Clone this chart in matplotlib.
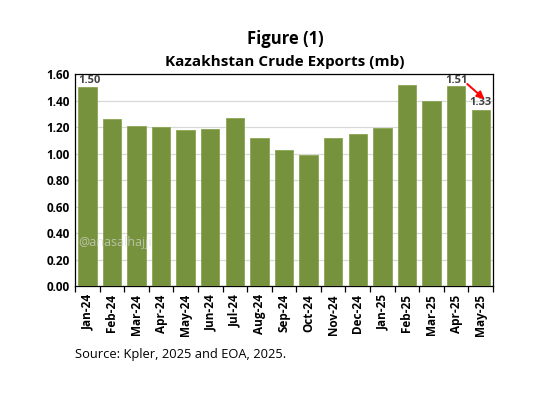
import numpy as np
import matplotlib.pyplot as plt

# Data
months = ['Jan-24', 'Feb-24', 'Mar-24', 'Apr-24', 'May-24', 'Jun-24', 'Jul-24', 'Aug-24',
          'Sep-24', 'Oct-24', 'Nov-24', 'Dec-24', 'Jan-25', 'Feb-25', 'Mar-25', 'Apr-25', 'May-25']
exports = [1.50, 1.26, 1.21, 1.20, 1.175, 1.185, 1.27, 1.12,
           1.025, 0.99, 1.12, 1.145, 1.195, 1.52, 1.40, 1.51, 1.33]
yticks = [0.0, 0.2, 0.4, 0.6, 0.8, 1.0, 1.2, 1.4, 1.6]

plt.rcParams['font.family'] = ['Open Sans', 'DejaVu Sans']

fig = plt.figure(figsize=(5.38, 3.99), dpi=100)
ax = fig.add_axes([0.1394, 0.2832, 0.777, 0.5313])

x = np.arange(len(months))
ax.bar(x, exports, width=0.75, color='#76923C', edgecolor='#8aa552', linewidth=0.6, zorder=3)

ax.set_xlim(-0.5, len(months) - 0.5)
ax.set_ylim(0, 1.6)
ax.set_yticks(yticks)
ax.set_yticklabels(['%.2f' % v for v in yticks], fontsize=8.5, fontweight='bold')
ax.yaxis.grid(True, color='#d9d9d9', linewidth=0.9, zorder=0)
ax.tick_params(axis='y', length=0, pad=4)

ax.set_xticks(x)
ax.set_xticklabels(months, rotation=90, fontsize=8.5, fontweight='bold')
ax.tick_params(axis='x', length=0, pad=6)
ax.set_xticks(np.arange(-0.5, len(months)), minor=True)
ax.tick_params(axis='x', which='minor', length=4, direction='out', width=0.9)

for s in ax.spines.values():
    s.set_color('black')
    s.set_linewidth(0.9)

# value labels
ax.text(-0.35, exports[0] + 0.01, '1.50', fontsize=8, fontweight='bold', color='#404040', ha='left', va='bottom')
ax.text(15, 1.51, '1.51', fontsize=8, fontweight='bold', color='#404040', ha='center', va='bottom')
ax.text(16, exports[16] + 0.01, '1.33', fontsize=8, fontweight='bold', color='#404040', ha='center', va='bottom')
ax.annotate('', xy=(16.15, 1.41), xytext=(15.45, 1.525),
            arrowprops=dict(arrowstyle='-|>', color='red', lw=1.4, mutation_scale=11, shrinkA=0, shrinkB=0))

# watermark
ax.text(-0.35, 0.30, '@anasalhajji', fontsize=9, color='#d8d8d8', alpha=0.7, zorder=4)

fig.text(0.53, 0.89, 'Figure (1)', ha='center', fontsize=12, fontweight='bold')
fig.text(0.53, 0.835, 'Kazakhstan Crude Exports (mb)', ha='center', fontsize=11, fontweight='bold')
fig.text(0.139, 0.103, 'Source: Kpler, 2025 and EOA, 2025.', fontsize=9.3)

fig.savefig('out.png', dpi=100)
